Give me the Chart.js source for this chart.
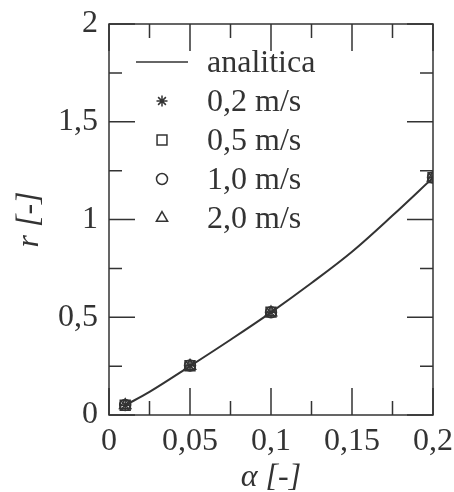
<!DOCTYPE html>
<html>
<head>
<meta charset="utf-8">
<script src="https://cdn.jsdelivr.net/npm/chart.js@4/dist/chart.umd.min.js"></script>
<style>
  html, body { margin: 0; padding: 0; background: #fff; }
  #wrap { width: 454px; height: 492px; }
</style>
</head>
<body>
<div id="wrap"><canvas id="myChart"></canvas></div>
<script>
// data
const alphaCurve = [0.01, 0.025, 0.05, 0.075, 0.1, 0.125, 0.15, 0.175, 0.2];
const rCurve = [0.05, 0.118, 0.25, 0.385, 0.525, 0.675, 0.835, 1.02, 1.214];
const alphaPoints = [0.01, 0.05, 0.1, 0.2];
const r02 = [0.05, 0.252, 0.525, 1.214];
const r05 = [0.05, 0.252, 0.526, 1.214];
const r10 = [0.051, 0.253, 0.525, 1.215];
const r20 = [0.05, 0.251, 0.524, 1.213];
const seriesLabels = ["analitica", "0,2 m/s", "0,5 m/s", "1,0 m/s", "2,0 m/s"];
const pointStyles = ["line", "star", "rect", "circle", "triangle"];
const pointSizes = [0, 5.5, 7, 5.5, 6.5];
const xTitle = "\u03b1 [-]";
const yTitle = "r [-]";

const ink = "#333333";
const fontFamily = "'Liberation Serif', serif";
const fontSize = 32;

function pairs(xs, ys) {
  return xs.map((x, i) => ({ x: x, y: ys[i] }));
}

function commaNum(v) {
  return String(Math.round(v * 1000) / 1000).replace(".", ",");
}

function markerSet(i, ys) {
  return {
    label: seriesLabels[i],
    data: pairs(alphaPoints, ys),
    showLine: false,
    pointStyle: pointStyles[i],
    pointRadius: pointSizes[i],
    pointBorderWidth: 1.5,
    pointBorderColor: ink,
    pointBackgroundColor: "rgba(0,0,0,0)",
  };
}

// box around the plot with inward ticks on all four sides
const frameTicks = {
  id: "frameTicks",
  beforeDatasetsDraw(chart) {
    const ctx = chart.ctx;
    const a = chart.chartArea;
    const xs = chart.scales.x;
    const ys = chart.scales.y;
    ctx.save();
    ctx.strokeStyle = ink;
    ctx.lineWidth = 1.5;
    ctx.strokeRect(a.left, a.top, a.right - a.left, a.bottom - a.top);
    xs.ticks.forEach((t) => {
      const px = xs.getPixelForValue(t.value);
      const major = Math.round(t.value * 1000) % 50 === 0;
      const len = major ? 27 : 14;
      ctx.beginPath();
      ctx.moveTo(px, a.bottom);
      ctx.lineTo(px, a.bottom - len);
      ctx.moveTo(px, a.top);
      ctx.lineTo(px, a.top + len);
      ctx.stroke();
    });
    ys.ticks.forEach((t) => {
      const py = ys.getPixelForValue(t.value);
      const major = Math.round(t.value * 1000) % 500 === 0;
      const len = major ? 26 : 13;
      ctx.beginPath();
      ctx.moveTo(a.left, py);
      ctx.lineTo(a.left + len, py);
      ctx.moveTo(a.right, py);
      ctx.lineTo(a.right - len, py);
      ctx.stroke();
    });
    ctx.restore();
  },
};

// legend drawn inside the plot area
const innerLegend = {
  id: "innerLegend",
  afterDraw(chart) {
    const ctx = chart.ctx;
    const a = chart.chartArea;
    const markX = a.left + 53;
    const textX = a.left + 98;
    ctx.save();
    ctx.font = fontSize + "px " + fontFamily;
    ctx.fillStyle = ink;
    ctx.strokeStyle = ink;
    ctx.textBaseline = "middle";
    seriesLabels.forEach((lab, i) => {
      const y = a.top + 38 + i * 39;
      ctx.lineWidth = 1.5;
      if (pointStyles[i] === "line") {
        ctx.beginPath();
        ctx.moveTo(markX - 26, y);
        ctx.lineTo(markX + 26, y);
        ctx.stroke();
      } else if (Chart.helpers && Chart.helpers.drawPoint) {
        ctx.save();
        ctx.fillStyle = "rgba(0,0,0,0)";
        Chart.helpers.drawPoint(ctx, { pointStyle: pointStyles[i], radius: pointSizes[i], rotation: 0, borderWidth: 1.5 }, markX, y);
        ctx.restore();
      }
      ctx.fillText(lab, textX, y + 2);
    });
    ctx.restore();
  },
};

new Chart(document.getElementById("myChart"), {
  type: "scatter",
  data: {
    datasets: [
      {
        label: seriesLabels[0],
        data: pairs(alphaCurve, rCurve),
        showLine: true,
        borderColor: ink,
        borderWidth: 2,
        pointRadius: 0,
        tension: 0.35,
      },
      markerSet(1, r02),
      markerSet(2, r05),
      markerSet(3, r10),
      markerSet(4, r20),
    ],
  },
  options: {
    responsive: true,
    maintainAspectRatio: false,
    animation: false,
    layout: { padding: { left: 0, right: 21, top: 24, bottom: 0 } },
    plugins: {
      legend: { display: false },
      tooltip: { enabled: false },
    },
    scales: {
      x: {
        type: "linear",
        min: 0,
        max: 0.2,
        grid: { display: false, drawTicks: false },
        border: { display: false },
        ticks: {
          stepSize: 0.025,
          autoSkip: false,
          maxRotation: 0,
          padding: 7,
          color: ink,
          font: { family: fontFamily, size: fontSize },
          callback: (v) => (Math.round(v * 1000) % 50 === 0 ? commaNum(v) : ""),
        },
        title: {
          display: true,
          text: xTitle,
          color: ink,
          font: { family: fontFamily, size: fontSize, style: "italic" },
          padding: { top: 0, bottom: -5 },
        },
        afterFit: (s) => {
          s.height = 77;
          s.paddingLeft = 0;
          s.paddingRight = 0;
        },
      },
      y: {
        type: "linear",
        min: 0,
        max: 2,
        grid: { display: false, drawTicks: false },
        border: { display: false },
        ticks: {
          stepSize: 0.25,
          autoSkip: false,
          padding: 11,
          color: ink,
          font: { family: fontFamily, size: fontSize },
          callback: (v) => (Math.round(v * 1000) % 500 === 0 ? commaNum(v) : ""),
        },
        title: {
          display: true,
          text: yTitle,
          color: ink,
          font: { family: fontFamily, size: fontSize, style: "italic" },
          padding: { top: 10, bottom: 0 },
        },
        afterFit: (s) => {
          s.width = 109;
          s.paddingTop = 0;
          s.paddingBottom = 0;
        },
      },
    },
  },
  plugins: [frameTicks, innerLegend],
});
</script>
</body>
</html>
